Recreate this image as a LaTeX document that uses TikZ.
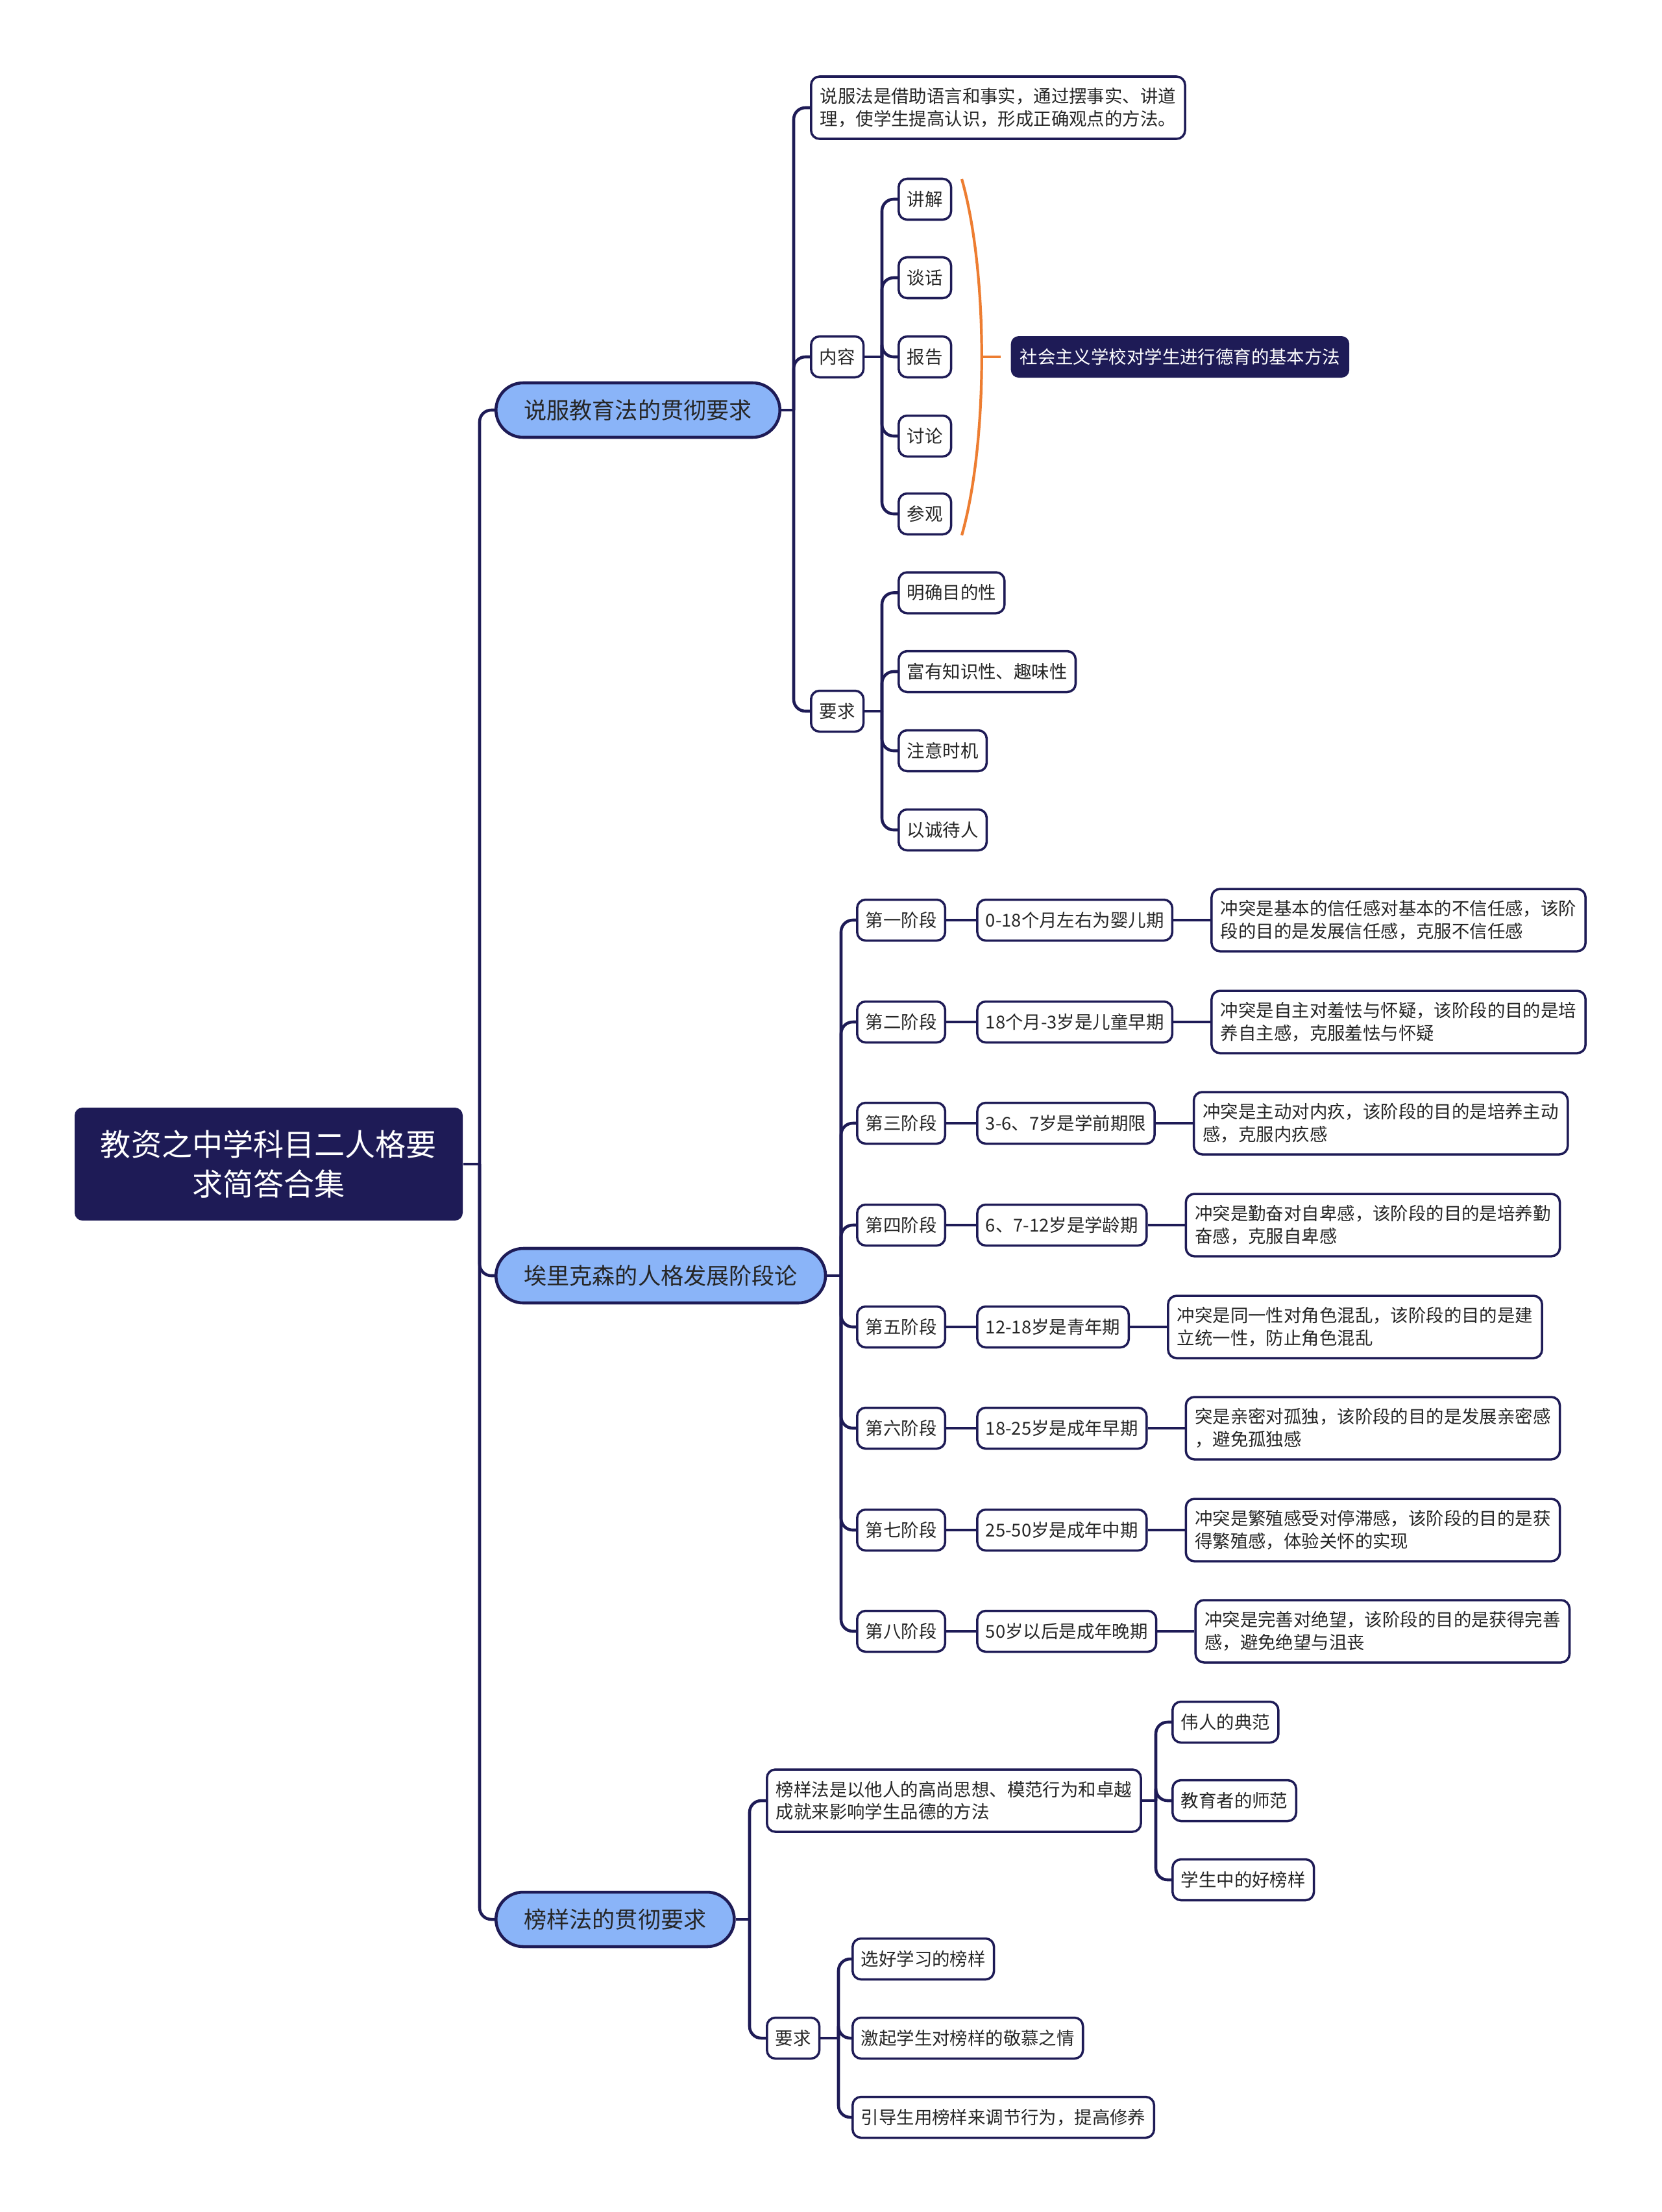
\documentclass[tikz,border=0pt]{standalone}
\usepackage{fontspec}
\setmainfont{Noto Sans CJK SC}
\usepackage{xcolor}
\usepackage{tikz}
\usetikzlibrary{calc}
\definecolor{navy}{RGB}{30,27,86}
\definecolor{branchblue}{RGB}{138,180,248}
\definecolor{orangeline}{RGB}{237,125,49}
\definecolor{inkgray}{RGB}{38,38,38}

\begin{document}
\begin{tikzpicture}[line join=round,
  link/.style={draw=navy,line width=1.3pt,rounded corners=0.18cm},
  rootbox/.style={fill=navy,text=white,rounded corners=0.12cm,minimum width=5.98cm,minimum height=1.74cm,align=center,font=\fontsize{13.4}{17.3}\selectfont},
  branchbox/.style={draw=navy,line width=1.3pt,fill=branchblue,text=inkgray,rounded corners=0.42cm,minimum height=0.84cm,inner xsep=0.43cm,font=\fontsize{10}{12}\selectfont},
  leaf/.style={draw=navy,line width=1pt,fill=white,text=inkgray,rounded corners=0.13cm,minimum height=0.63cm,inner xsep=0.13cm,inner ysep=0pt,font=\fontsize{7.8}{9.9}\selectfont},
  descbox/.style={leaf,align=left,minimum height=0.96cm,inner xsep=0.14cm},
  summarybox/.style={fill=navy,text=white,rounded corners=0.12cm,minimum height=0.64cm,inner xsep=0.14cm,font=\fontsize{7.8}{9.9}\selectfont}]
  \useasboundingbox (0,0) rectangle (25.60,-34.09);

  % root and the three branches
  \node[rootbox] (root) at (4.14,-17.94) {教资之中学科目二人格要\\求简答合集};
  \node[branchbox,anchor=west] (b1) at (7.62,-6.32) {说服教育法的贯彻要求};
  \node[branchbox,anchor=west] (b2) at (7.62,-19.66) {埃里克森的人格发展阶段论};
  \node[branchbox,anchor=west] (b3) at (7.62,-29.58) {榜样法的贯彻要求};
  \coordinate (jr) at (7.39,-17.94);
  \draw[link] (root.east) -- (jr);
  \draw[link] (jr) |- (b1.west);
  \draw[link] (jr) |- (b2.west);
  \draw[link] (jr) |- (b3.west);

  % branch 1
  \node[descbox,anchor=west] (def1) at (12.48,-1.66) {说服法是借助语言和事实，通过摆事实、讲道\\理，使学生提高认识，形成正确观点的方法。};
  \node[leaf,anchor=west] (nr) at (12.48,-5.50) {内容};
  \node[leaf,anchor=west] (yq1) at (12.48,-10.96) {要求};
  \coordinate (j1) at (12.23,-6.32);
  \draw[link] (b1.east) -- (j1);
  \draw[link] (j1) |- (def1.west);
  \draw[link] (j1) |- (nr.west);
  \draw[link] (j1) |- (yq1.west);

  \node[leaf,anchor=west] (nr1) at (13.83,-3.07) {讲解};
  \node[leaf,anchor=west] (nr2) at (13.83,-4.28) {谈话};
  \node[leaf,anchor=west] (nr3) at (13.83,-5.50) {报告};
  \node[leaf,anchor=west] (nr4) at (13.83,-6.72) {讨论};
  \node[leaf,anchor=west] (nr5) at (13.83,-7.92) {参观};
  \coordinate (jn) at (13.59,-5.50);
  \draw[link] (nr.east) -- (jn);
  \draw[link] (jn) |- (nr1.west);
  \draw[link] (jn) |- (nr2.west);
  \draw[link] (jn) |- (nr3.west);
  \draw[link] (jn) |- (nr4.west);
  \draw[link] (jn) |- (nr5.west);

  \draw[orangeline,line width=1.2pt] (14.82,-2.76) .. controls (15.23,-4.2) and (15.23,-6.8) .. (14.82,-8.25);
  \coordinate (bm) at (15.13,-5.50);
  \node[summarybox,anchor=west] (sum) at (15.57,-5.50) {社会主义学校对学生进行德育的基本方法};
  \draw[orangeline,line width=1.2pt,shorten >=0.15cm] (bm) -- (sum.west);

  \node[leaf,anchor=west] (yq11) at (13.83,-9.135) {明确目的性};
  \node[leaf,anchor=west] (yq12) at (13.83,-10.35) {富有知识性、趣味性};
  \node[leaf,anchor=west] (yq13) at (13.83,-11.57) {注意时机};
  \node[leaf,anchor=west] (yq14) at (13.83,-12.79) {以诚待人};
  \coordinate (jy1) at (13.59,-10.96);
  \draw[link] (yq1.east) -- (jy1);
  \draw[link] (jy1) |- (yq11.west);
  \draw[link] (jy1) |- (yq12.west);
  \draw[link] (jy1) |- (yq13.west);
  \draw[link] (jy1) |- (yq14.west);

  % branch 2
  \coordinate (j2) at (12.96,-19.66);
  \draw[link] (b2.east) -- (j2);
  \node[leaf,anchor=west] (s1) at (13.19,-14.18) {第一阶段};
  \node[leaf,anchor=west] (s2) at (13.19,-15.75) {第二阶段};
  \node[leaf,anchor=west] (s3) at (13.19,-17.31) {第三阶段};
  \node[leaf,anchor=west] (s4) at (13.19,-18.88) {第四阶段};
  \node[leaf,anchor=west] (s5) at (13.19,-20.45) {第五阶段};
  \node[leaf,anchor=west] (s6) at (13.19,-22.01) {第六阶段};
  \node[leaf,anchor=west] (s7) at (13.19,-23.58) {第七阶段};
  \node[leaf,anchor=west] (s8) at (13.19,-25.14) {第八阶段};
  \node[leaf,anchor=west] (a1) at ($(s1.east)+(0.46,0)$) {0-18个月左右为婴儿期};
  \node[leaf,anchor=west] (a2) at ($(s2.east)+(0.46,0)$) {18个月-3岁是儿童早期};
  \node[leaf,anchor=west] (a3) at ($(s3.east)+(0.46,0)$) {3-6、7岁是学前期限};
  \node[leaf,anchor=west] (a4) at ($(s4.east)+(0.46,0)$) {6、7-12岁是学龄期};
  \node[leaf,anchor=west] (a5) at ($(s5.east)+(0.46,0)$) {12-18岁是青年期};
  \node[leaf,anchor=west] (a6) at ($(s6.east)+(0.46,0)$) {18-25岁是成年早期};
  \node[leaf,anchor=west] (a7) at ($(s7.east)+(0.46,0)$) {25-50岁是成年中期};
  \node[leaf,anchor=west] (a8) at ($(s8.east)+(0.46,0)$) {50岁以后是成年晚期};
  \node[descbox,anchor=west] (d1) at ($(a1.east)+(0.57,0)$) {冲突是基本的信任感对基本的不信任感，该阶\\段的目的是发展信任感，克服不信任感};
  \node[descbox,anchor=west] (d2) at ($(a2.east)+(0.57,0)$) {冲突是自主对羞怯与怀疑，该阶段的目的是培\\养自主感，克服羞怯与怀疑};
  \node[descbox,anchor=west] (d3) at ($(a3.east)+(0.57,0)$) {冲突是主动对内疚，该阶段的目的是培养主动\\感，克服内疚感};
  \node[descbox,anchor=west] (d4) at ($(a4.east)+(0.57,0)$) {冲突是勤奋对自卑感，该阶段的目的是培养勤\\奋感，克服自卑感};
  \node[descbox,anchor=west] (d5) at ($(a5.east)+(0.57,0)$) {冲突是同一性对角色混乱，该阶段的目的是建\\立统一性，防止角色混乱};
  \node[descbox,anchor=west] (d6) at ($(a6.east)+(0.57,0)$) {突是亲密对孤独，该阶段的目的是发展亲密感\\，避免孤独感};
  \node[descbox,anchor=west] (d7) at ($(a7.east)+(0.57,0)$) {冲突是繁殖感受对停滞感，该阶段的目的是获\\得繁殖感，体验关怀的实现};
  \node[descbox,anchor=west] (d8) at ($(a8.east)+(0.57,0)$) {冲突是完善对绝望，该阶段的目的是获得完善\\感，避免绝望与沮丧};
  \draw[link] (j2) |- (s1.west);
  \draw[link] (j2) |- (s2.west);
  \draw[link] (j2) |- (s3.west);
  \draw[link] (j2) |- (s4.west);
  \draw[link] (j2) |- (s5.west);
  \draw[link] (j2) |- (s6.west);
  \draw[link] (j2) |- (s7.west);
  \draw[link] (j2) |- (s8.west);
  \draw[link] (s1.east) -- (a1.west); \draw[link] (a1.east) -- (d1.west);
  \draw[link] (s2.east) -- (a2.west); \draw[link] (a2.east) -- (d2.west);
  \draw[link] (s3.east) -- (a3.west); \draw[link] (a3.east) -- (d3.west);
  \draw[link] (s4.east) -- (a4.west); \draw[link] (a4.east) -- (d4.west);
  \draw[link] (s5.east) -- (a5.west); \draw[link] (a5.east) -- (d5.west);
  \draw[link] (s6.east) -- (a6.west); \draw[link] (a6.east) -- (d6.west);
  \draw[link] (s7.east) -- (a7.west); \draw[link] (a7.east) -- (d7.west);
  \draw[link] (s8.east) -- (a8.west); \draw[link] (a8.east) -- (d8.west);

  % branch 3
  \node[descbox,anchor=west] (def3) at (11.80,-27.75) {榜样法是以他人的高尚思想、模范行为和卓越\\成就来影响学生品德的方法};
  \node[leaf,anchor=west] (yq3) at (11.80,-31.41) {要求};
  \coordinate (j3) at (11.55,-29.58);
  \draw[link] (b3.east) -- (j3);
  \draw[link] (j3) |- (def3.west);
  \draw[link] (j3) |- (yq3.west);

  \node[leaf,anchor=west] (bx1) at (18.05,-26.54) {伟人的典范};
  \node[leaf,anchor=west] (bx2) at (18.05,-27.75) {教育者的师范};
  \node[leaf,anchor=west] (bx3) at (18.05,-28.97) {学生中的好榜样};
  \coordinate (jd3) at (17.81,-27.75);
  \draw[link] (def3.east) -- (jd3);
  \draw[link] (jd3) |- (bx1.west);
  \draw[link] (jd3) |- (bx2.west);
  \draw[link] (jd3) |- (bx3.west);

  \node[leaf,anchor=west] (yq31) at (13.12,-30.19) {选好学习的榜样};
  \node[leaf,anchor=west] (yq32) at (13.12,-31.41) {激起学生对榜样的敬慕之情};
  \node[leaf,anchor=west] (yq33) at (13.12,-32.63) {引导生用榜样来调节行为，提高修养};
  \coordinate (jy3) at (12.92,-31.41);
  \draw[link] (yq3.east) -- (jy3);
  \draw[link] (jy3) |- (yq31.west);
  \draw[link] (jy3) |- (yq32.west);
  \draw[link] (jy3) |- (yq33.west);
\end{tikzpicture}
\end{document}
